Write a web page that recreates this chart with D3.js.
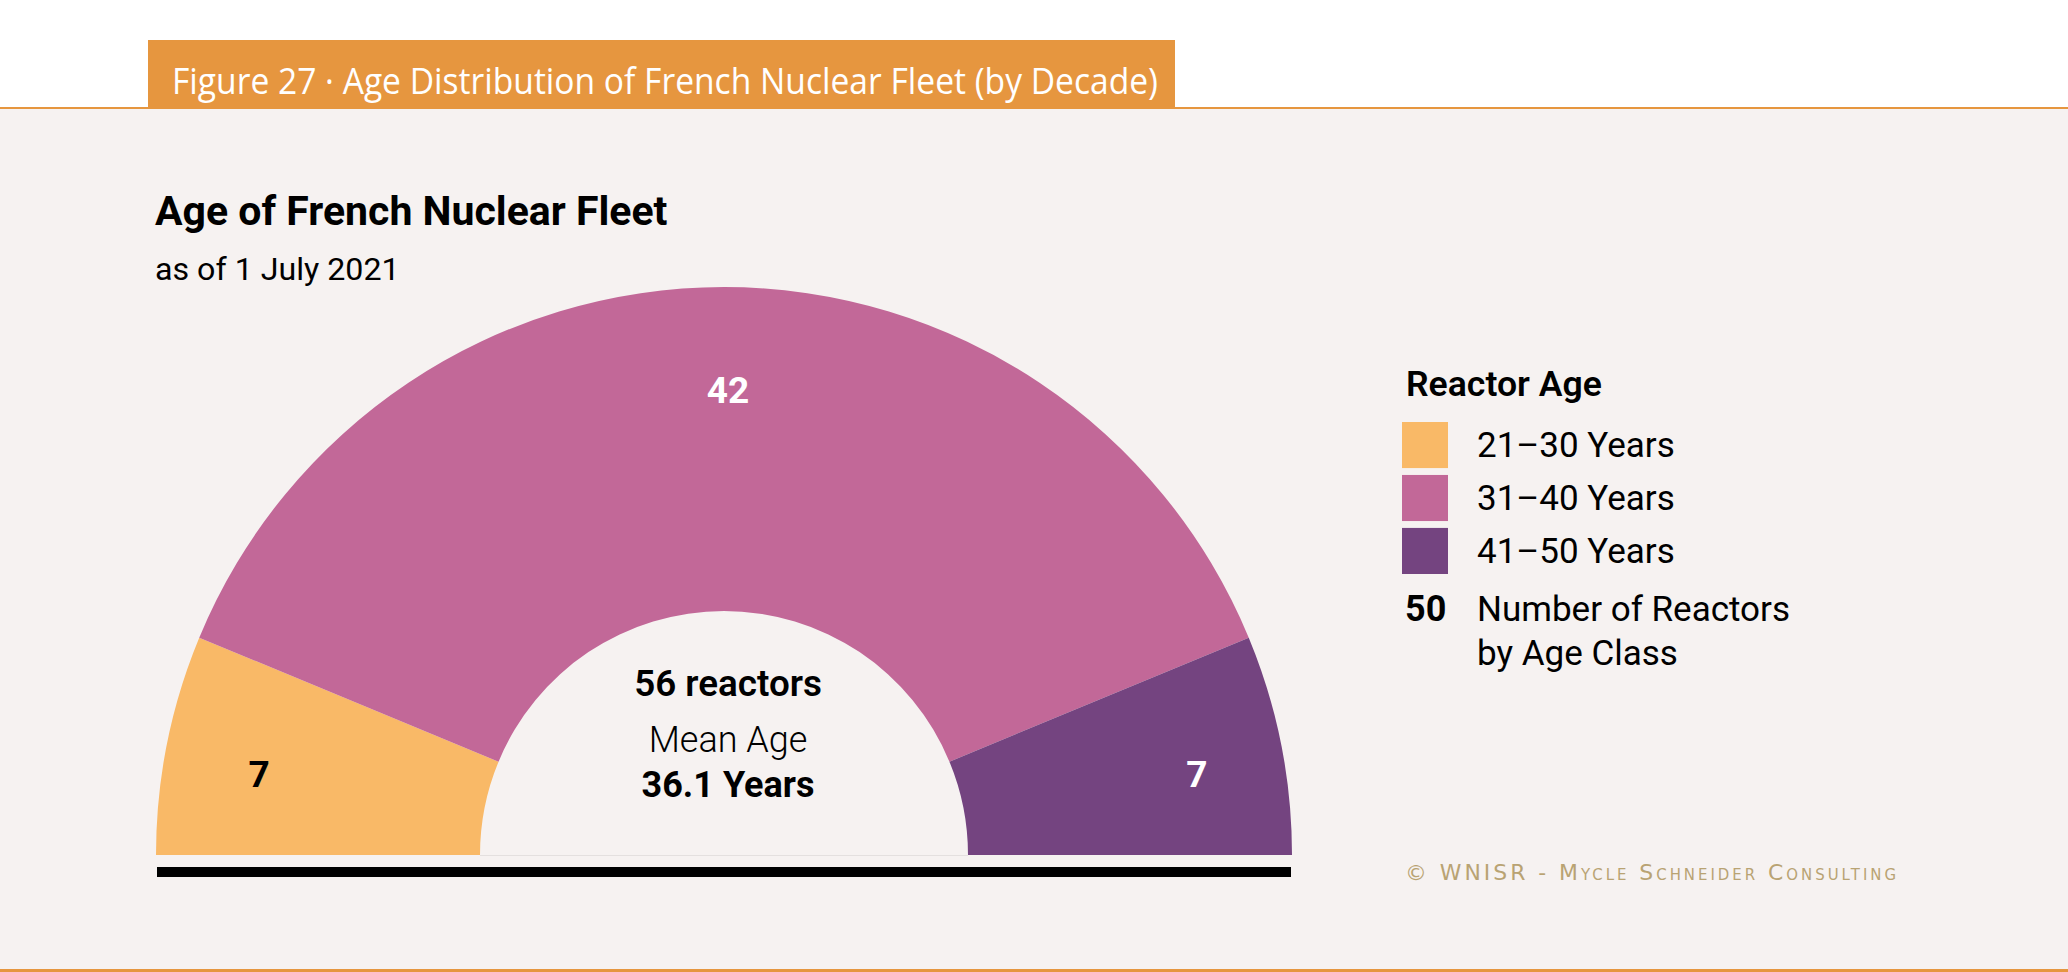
<!DOCTYPE html>
<html>
<head>
<meta charset="utf-8">
<script src="https://cdn.jsdelivr.net/npm/d3@7"></script>
<style>
  html, body { margin: 0; padding: 0; background: #fff; }
  svg { display: block; font-family: Roboto, "Noto Sans", sans-serif; }
</style>
</head>
<body>
<div id="chart"></div>
<script>
// Age of French nuclear fleet, half-donut by decade
const ageClasses = ["21–30 Years", "31–40 Years", "41–50 Years"];
const reactorCounts = [7, 42, 7];
const classColors = ["#F9B967", "#C26898", "#744480"];
const labelColors = ["#000", "#fff", "#fff"];
const totalReactors = 56;
const meanAge = 36.1;

const width = 2068, height = 972;
const cx = 724, cy = 855;
const outerR = 568, innerR = 244;

const svg = d3.select("#chart")
    .append("svg")
    .attr("width", width)
    .attr("height", height);

// Squeeze a text element to a given width
function fit(sel, w) {
    sel.attr("textLength", w).attr("lengthAdjust", "spacingAndGlyphs");
    return sel;
}

// Scale font size so that the text is w pixels wide
function fitSize(sel, w) {
    const fs = parseFloat(sel.style("font-size"));
    const len = sel.node().getComputedTextLength();
    sel.style("font-size", (fs * w / len).toFixed(1) + "px");
    return sel;
}

// Backgrounds and header band
svg.append("rect").attr("width", width).attr("height", height).attr("fill", "#fff");
svg.append("rect").attr("x", 0).attr("y", 108).attr("width", width).attr("height", 862).attr("fill", "#F6F2F1");
svg.append("rect").attr("x", 0).attr("y", 107).attr("width", width).attr("height", 2).attr("fill", "#E6963F");
svg.append("rect").attr("x", 0).attr("y", 969).attr("width", width).attr("height", 3).attr("fill", "#E6963F");
svg.append("rect").attr("x", 148).attr("y", 40).attr("width", 1027).attr("height", 68).attr("fill", "#E6963F");

fit(svg.append("text")
    .attr("x", 172).attr("y", 94)
    .attr("fill", "#fff")
    .style("font-size", "36px")
    .style("font-family", "'Open Sans', sans-serif")
    .text("Figure 27 · Age Distribution of French Nuclear Fleet (by Decade)"), 986);

// Chart title
fitSize(svg.append("text")
    .attr("x", 155).attr("y", 225)
    .style("font-size", "40px").style("font-weight", 700)
    .text("Age of French Nuclear Fleet"), 512);
fitSize(svg.append("text")
    .attr("x", 155).attr("y", 280)
    .style("font-size", "34px")
    .text("as of 1 July 2021"), 245);

// Half donut
const pie = d3.pie().sort(null)
    .startAngle(-Math.PI / 2)
    .endAngle(Math.PI / 2);
const arcs = pie(reactorCounts);

const arc = d3.arc().innerRadius(innerR).outerRadius(outerR);
const labelArc = d3.arc().innerRadius(478).outerRadius(478);

const g = svg.append("g").attr("transform", `translate(${cx},${cy})`);

g.selectAll(".slice")
    .data(arcs)
    .enter()
    .append("path")
    .attr("class", "slice")
    .attr("d", arc)
    .attr("fill", (d, i) => classColors[i]);

g.selectAll(".slice-label")
    .data(arcs)
    .enter()
    .append("text")
    .attr("class", "slice-label")
    .attr("x", d => labelArc.centroid(d)[0] + 4)
    .attr("y", d => labelArc.centroid(d)[1] + 13)
    .attr("text-anchor", "middle")
    .attr("dominant-baseline", "central")
    .attr("fill", (d, i) => labelColors[i])
    .style("font-size", "37px").style("font-weight", 700)
    .text(d => d.value);

// faint base line across the hole
g.append("line")
    .attr("x1", -innerR).attr("x2", innerR)
    .attr("y1", 0.5).attr("y2", 0.5)
    .attr("stroke", "#E4E0DF").attr("stroke-width", 1);

// Black base bar
svg.append("rect")
    .attr("x", cx - outerR + 1).attr("y", 867)
    .attr("width", outerR * 2 - 2).attr("height", 10)
    .attr("fill", "#000");

// Centre text
fitSize(g.append("text").attr("x", 4).attr("y", -159)
    .attr("text-anchor", "middle")
    .style("font-size", "35px").style("font-weight", 600)
    .text(`${totalReactors} reactors`), 188);
g.append("text").attr("x", 4).attr("y", -103)
    .attr("text-anchor", "middle")
    .style("font-size", "36px").style("font-weight", 300)
    .text("Mean Age");
g.append("text").attr("x", 4).attr("y", -58)
    .attr("text-anchor", "middle")
    .style("font-size", "36px").style("font-weight", 700)
    .text(`${meanAge} Years`);

// Legend
const legend = svg.append("g").attr("transform", "translate(1402,0)");
fitSize(legend.append("text").attr("x", 4).attr("y", 396)
    .style("font-size", "33px").style("font-weight", 600)
    .text("Reactor Age"), 196);

const rowY = d3.scaleBand().domain(ageClasses).range([422, 574]).paddingInner(0.13).paddingOuter(0);

legend.selectAll(".swatch")
    .data(ageClasses)
    .enter()
    .append("rect")
    .attr("class", "swatch")
    .attr("x", 0)
    .attr("y", d => rowY(d))
    .attr("width", 46)
    .attr("height", rowY.bandwidth())
    .attr("fill", (d, i) => classColors[i]);

legend.selectAll(".legend-label")
    .data(ageClasses)
    .enter()
    .append("text")
    .attr("class", "legend-label")
    .attr("x", 75)
    .attr("y", d => rowY(d) + 35)
    .style("font-size", "35px")
    .text(d => d);

legend.append("text").attr("x", 3).attr("y", 621)
    .style("font-size", "36px").style("font-weight", 700)
    .text("50");
legend.append("text").attr("x", 75).attr("y", 621)
    .style("font-size", "35px")
    .text("Number of Reactors");
legend.append("text").attr("x", 75).attr("y", 665)
    .style("font-size", "35px")
    .text("by Age Class");

// Credit
fit(svg.append("text")
    .attr("x", 1405).attr("y", 880)
    .attr("fill", "#B9A373")
    .style("font-size", "22px")
    .style("font-variant", "small-caps")
    .style("letter-spacing", "3px")
    .style("font-family", "'DejaVu Sans', sans-serif")
    .text("© WNISR - Mycle Schneider Consulting"), 494);
</script>
</body>
</html>
